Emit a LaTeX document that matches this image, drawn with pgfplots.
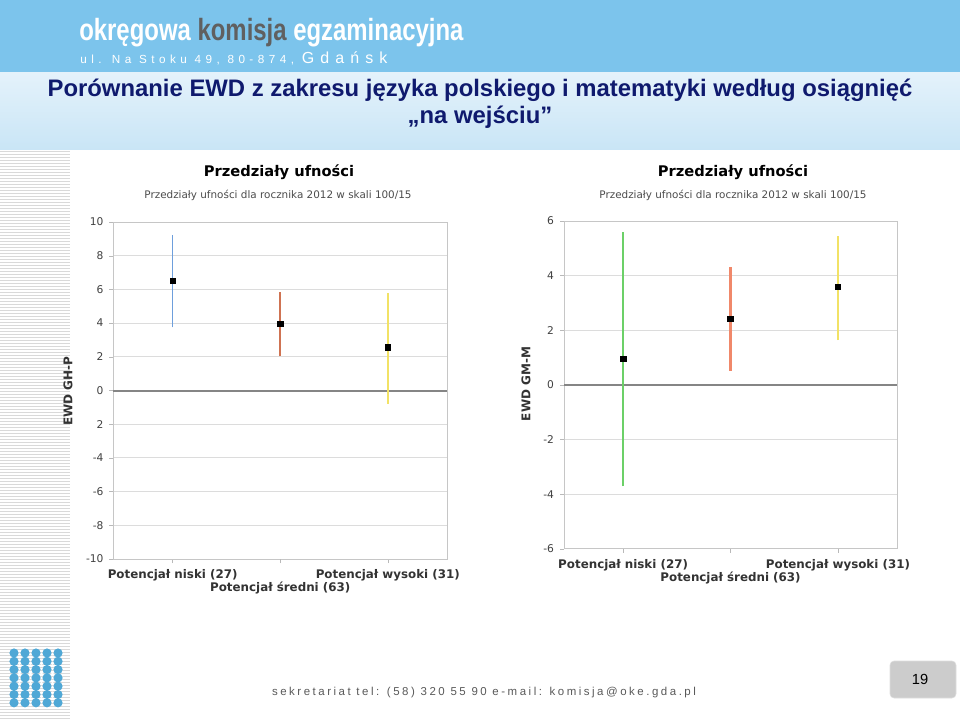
\documentclass[border=0pt]{standalone}
\usepackage{fontspec}
\setmainfont{DejaVu Sans}
\newfontfamily\arialfont{Liberation Sans}
\newfontfamily\spacedfont[LetterSpace=22]{Liberation Sans}
\newfontfamily\addrfont[LetterSpace=38]{Liberation Sans}
\usepackage{pgfplots}
\pgfplotsset{compat=1.18}

\definecolor{hdrblue}{HTML}{7CC4EC}
\definecolor{bandtop}{HTML}{E4F2FB}
\definecolor{bandbot}{HTML}{C9E5F6}
\definecolor{titlenavy}{HTML}{0F1A6E}
\definecolor{logoblue}{HTML}{4FA8D6}
\definecolor{ewdblue}{HTML}{6E9FDC}
\definecolor{ewdbrown}{HTML}{CF7352}
\definecolor{ewdyellow}{HTML}{F2E266}
\definecolor{ewdgreen}{HTML}{6CD068}
\definecolor{ewdorange}{HTML}{F0886A}
\definecolor{gridgray}{HTML}{DCDCDC}
\definecolor{zerogray}{HTML}{858585}

\pgfplotsset{
  ewd/.style={
    scale only axis, anchor=north west,
    xmin=-0.55, xmax=2.55,
    xtick={0,2},
    extra x ticks={1},
    extra x tick style={xticklabel style={yshift=-9.5pt}, grid=none},
    axis line style={gray!45},
    tick style={gray!55},
    tick align=outside, major tick length=3pt,
    xtick pos=bottom, ytick pos=left,
    ymajorgrids, major grid style={gridgray, line width=0.7pt},
    yticklabel style={font=\fontsize{8}{8}\selectfont, text=black!75, xshift=-1pt},
    xticklabel style={font=\bfseries\fontsize{8.9}{9}\selectfont, text=black!80, yshift=-1.2pt},
  },
}

\begin{document}
\begin{tikzpicture}
\begin{scope}[x=0.75pt, y=-0.75pt]
\useasboundingbox (0,0) rectangle (960,720);
\fill[white] (0,0) rectangle (960,720);
% header
\fill[hdrblue] (0,0) rectangle (960,73);
\shade[top color=bandtop, bottom color=bandbot] (0,73) rectangle (960,150);
\node[anchor=west, inner sep=0pt, text=white] at (79,33)
  {\scalebox{0.78}[1]{\arialfont\bfseries\fontsize{23}{26}\selectfont okręgowa \textcolor{gray!75!black}{komisja} egzaminacyjna}};
\node[anchor=west, inner sep=0pt, text=white] at (80,58)
  {\addrfont\fontsize{8.8}{10}\selectfont ul. Na Stoku 49, 80-874, {\fontsize{12}{13}\selectfont Gdańsk}};
% slide title
\node[text=titlenavy, inner sep=0pt] at (480,90)
  {\arialfont\bfseries\fontsize{17.9}{20}\selectfont Porównanie EWD z zakresu języka polskiego i matematyki według osiągnięć};
\node[text=titlenavy, inner sep=0pt] at (480,117)
  {\arialfont\bfseries\fontsize{17.9}{20}\selectfont „na wejściu”};
% left striped strip
\foreach \yy in {151,154,...,718} \draw[gray!30, line width=0.7pt] (0,\yy) -- (70,\yy);
% logo dots
\foreach \i in {0,...,4} {
  \foreach \j in {0,...,6} {
    \fill[logoblue] ({14+11*\i},{653+8.3*\j}) circle (4.6);
  }
}
\foreach \i in {0,...,3} {
  \foreach \j in {0,...,5} {
    \fill[white] ({19.5+11*\i},{657+8.3*\j}) circle (1.3);
  }
}
% footer
\node[text=black!65, inner sep=0pt] at (484,693)
  {\spacedfont\fontsize{8.6}{10}\selectfont sekretariat tel: (58) 320 55 90 e-mail: komisja@oke.gda.pl};
\draw[rounded corners=3pt, fill=gray!40, draw=gray!25] (890,661) rectangle (956,698);
\node[inner sep=0pt] at (920,679) {\arialfont\fontsize{11}{12}\selectfont 19};
% chart titles
\node[inner sep=0pt] at (279,172) {\bfseries\fontsize{11}{12}\selectfont Przedziały ufności};
\node[inner sep=0pt, text=black!70] at (278,195) {\fontsize{7.8}{9}\selectfont Przedziały ufności dla rocznika 2012 w skali 100/15};
\node[inner sep=0pt] at (733,172) {\bfseries\fontsize{11}{12}\selectfont Przedziały ufności};
\node[inner sep=0pt, text=black!70] at (733,195) {\fontsize{7.8}{9}\selectfont Przedziały ufności dla rocznika 2012 w skali 100/15};
% y labels
\node[rotate=90, inner sep=0pt, text=black!80] at (68,391) {\bfseries\fontsize{9}{9}\selectfont EWD GH-P};
\node[rotate=90, inner sep=0pt, text=black!80] at (526,384) {\bfseries\fontsize{9}{9}\selectfont EWD GM-M};
\end{scope}

% left chart: EWD GH-P
\begin{axis}[ewd,
  at={(85.1pt,-166.5pt)}, width=250.1pt, height=252.75pt,
  ymin=-10, ymax=10,
  ytick={-10,-8,-6,-4,-2,0,2,4,6,8,10},
  yticklabels={-10,-8,-6,-4,2,0,2,4,6,8,10},
  xticklabels={Potencjał niski (27), Potencjał wysoki (31)},
  extra x tick labels={Potencjał średni (63)},
  extra y ticks={0}, extra y tick labels={},
  extra y tick style={major grid style={zerogray, line width=1.5pt}, tick style={draw=none}},
]
\addplot[draw=ewdblue, line width=0.9pt] coordinates {(0,3.74) (0,9.23)};
\addplot[draw=ewdbrown, line width=1.1pt] coordinates {(1,2.02) (1,5.87)};
\addplot[draw=ewdyellow, line width=1.5pt] coordinates {(2,-0.79) (2,5.81)};
\addplot[only marks, mark=square*, mark size=2.1pt, black] coordinates {(0,6.52) (1,3.95) (2,2.57)};
\end{axis}

% right chart: EWD GM-M
\begin{axis}[ewd,
  at={(423pt,-165.75pt)}, width=249.75pt, height=245.8pt,
  ymin=-6, ymax=6,
  ytick={-6,-4,-2,0,2,4,6},
  yticklabels={-6,-4,-2,0,2,4,6},
  xticklabels={Potencjał niski (27), Potencjał wysoki (31)},
  extra x tick labels={Potencjał średni (63)},
  extra y ticks={0}, extra y tick labels={},
  extra y tick style={major grid style={zerogray, line width=1.5pt}, tick style={draw=none}},
]
\addplot[draw=ewdgreen, line width=1.8pt] coordinates {(0,-3.71) (0,5.61)};
\addplot[draw=ewdorange, line width=1.6pt] coordinates {(1,0.51) (1,4.30)};
\addplot[draw=ewdyellow, line width=1.6pt] coordinates {(2,1.64) (2,5.46)};
\addplot[only marks, mark=square*, mark size=2.1pt, black] coordinates {(0,0.96) (1,2.42) (2,3.59)};
\end{axis}
\end{tikzpicture}
\end{document}
